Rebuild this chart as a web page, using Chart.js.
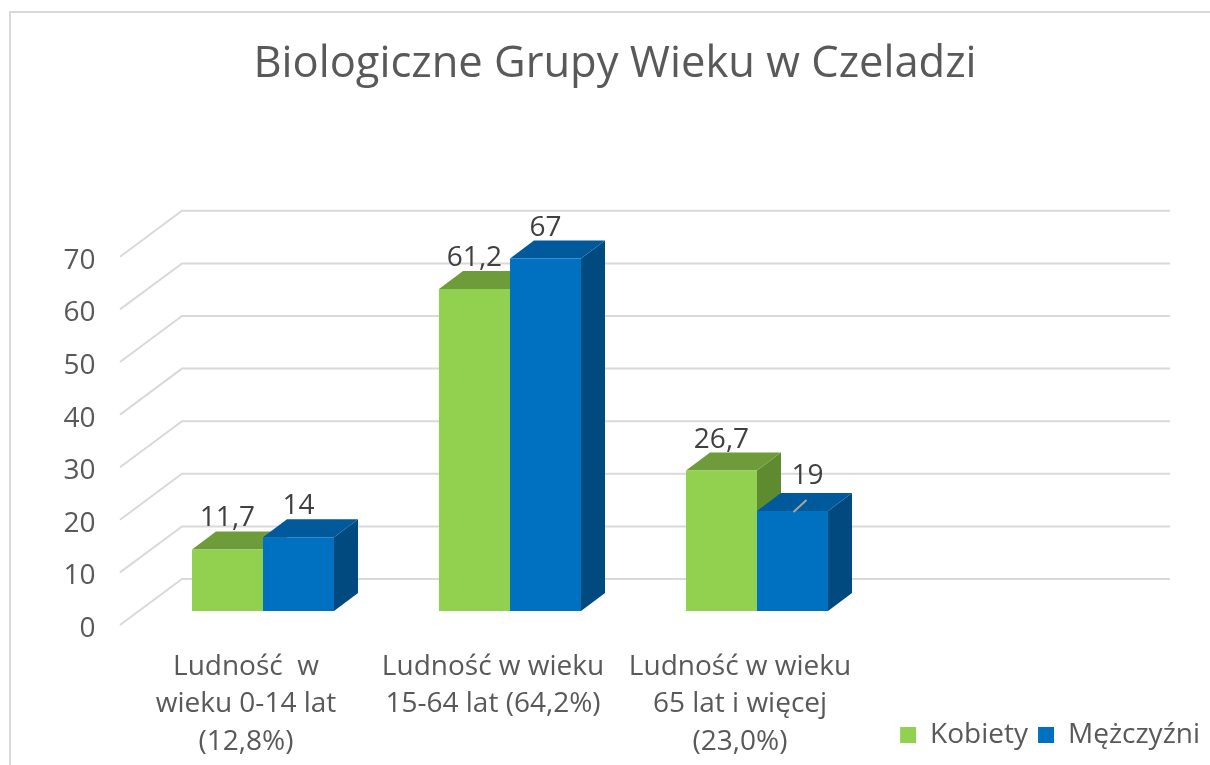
<!DOCTYPE html>
<html>
<head>
<meta charset="utf-8">
<script src="https://cdn.jsdelivr.net/npm/chart.js@4.4.1/dist/chart.umd.min.js"></script>
<style>
  html, body { margin: 0; padding: 0; background: #ffffff; }
  #frame { position: absolute; left: 9px; top: 11px; width: 1400px; height: 900px; border: 2px solid #d9d9d9; }
  #wrap { position: absolute; left: 0; top: 0; width: 1210px; height: 765px; }
</style>
</head>
<body>
<div id="frame"></div>
<div id="wrap"><canvas id="c" width="1210" height="765"></canvas></div>
<script>
// ---- data ----
const categories = [
  ["Ludność  w", "wieku 0-14 lat", "(12,8%)"],
  ["Ludność w wieku", "15-64 lat (64,2%)"],
  ["Ludność w wieku", "65 lat i więcej", "(23,0%)"],
  ""
];
const seriesNames = ["Kobiety", "Mężczyźni"];
const kobiety = [11.7, 61.2, 26.7, null];
const mezczyzni = [14, 67, 19, null];
const valueLabels = [["11,7", "61,2", "26,7"], ["14", "67", "19"]];
const yTicks = [0, 10, 20, 30, 40, 50, 60, 70];

// ---- styling ----
const FRONT = ["#92D050", "#0070C0"];
const TOP = ["#6F9C3B", "#00599B"];
const SIDE = ["#5E8A30", "#004A80"];
const TEXT = "#595959";
const FONT = "'Open Sans', Lato, sans-serif";
const BAR_DX = 24, BAR_DY = 18;        // bar depth projection
const FLOOR_FX = -19.5, FLOOR_FY = 14; // front edge of floor relative to bar face
const WALL_BX = 42.5, WALL_BY = -32;   // back wall relative to bar face

const threeD = {
  id: 'threeD',
  afterLayout(chart) {
    // let the multi-line category labels run down beside the legend
    const sx = chart.scales.x;
    sx.bottom = chart.height;
  },
  beforeDatasetsDraw(chart) {
    const ctx = chart.ctx, ys = chart.scales.y, ca = chart.chartArea;
    ctx.save();
    ctx.strokeStyle = "#d9d9d9";
    ctx.lineWidth = 2;
    yTicks.forEach(v => {
      const y = ys.getPixelForValue(v);
      ctx.beginPath();
      ctx.moveTo(ca.left + FLOOR_FX, y + FLOOR_FY);
      ctx.lineTo(ca.left + WALL_BX, y + WALL_BY);
      ctx.lineTo(ca.right + WALL_BX, y + WALL_BY);
      ctx.stroke();
    });
    const n = categories.length;
    for (let i = 0; i < n; i++) {
      for (let d = 0; d < chart.data.datasets.length; d++) {
        const el = chart.getDatasetMeta(d).data[i];
        if (!el || chart.data.datasets[d].data[i] == null) continue;
        const l = el.x - el.width / 2, r = el.x + el.width / 2, t = el.y, b = el.base;
        ctx.fillStyle = SIDE[d];
        ctx.beginPath();
        ctx.moveTo(r, t); ctx.lineTo(r + BAR_DX, t - BAR_DY);
        ctx.lineTo(r + BAR_DX, b - BAR_DY); ctx.lineTo(r, b); ctx.closePath(); ctx.fill();
        ctx.fillStyle = TOP[d];
        ctx.beginPath();
        ctx.moveTo(l, t); ctx.lineTo(l + BAR_DX, t - BAR_DY);
        ctx.lineTo(r + BAR_DX, t - BAR_DY); ctx.lineTo(r, t); ctx.closePath(); ctx.fill();
      }
    }
    ctx.restore();
  },
  afterDatasetsDraw(chart) {
    const ctx = chart.ctx;
    ctx.save();
    ctx.font = "28px " + FONT;
    ctx.fillStyle = "#404040";
    ctx.textAlign = "center";
    ctx.textBaseline = "middle";
    for (let d = 0; d < chart.data.datasets.length; d++) {
      const meta = chart.getDatasetMeta(d);
      valueLabels[d].forEach((txt, i) => {
        const el = meta.data[i];
        let x = el.x, y = el.y - 31;
        if (d === 1 && i === 2) {
          x = el.x + 15; y = el.y - 35;
          ctx.strokeStyle = "#a6a6a6"; ctx.lineWidth = 2;
          ctx.beginPath(); ctx.moveTo(el.x + 1, el.y + 1); ctx.lineTo(el.x + 14, el.y - 11); ctx.stroke();
        }
        ctx.fillText(txt, x, y);
      });
    }
    ctx.restore();
  }
};

new Chart(document.getElementById('c'), {
  type: 'bar',
  data: {
    labels: categories,
    datasets: [
      { label: seriesNames[0], data: kobiety, backgroundColor: FRONT[0], borderWidth: 0 },
      { label: seriesNames[1], data: mezczyzni, backgroundColor: FRONT[1], borderWidth: 0 }
    ]
  },
  options: {
    responsive: false,
    animation: false,
    layout: { padding: { left: 20, right: 0, top: 0, bottom: 6 } },
    datasets: { bar: { categoryPercentage: 0.575, barPercentage: 1 } },
    plugins: {
      title: {
        display: true,
        text: "Biologiczne Grupy Wieku w Czeladzi",
        color: TEXT,
        font: { family: FONT, size: 43.5, weight: 'normal', lineHeight: 1.2 },
        padding: { top: 39, bottom: 151.6 }
      },
      legend: {
        position: 'bottom',
        align: 'end',
        labels: { color: TEXT, font: { family: FONT, size: 28 }, boxWidth: 16, boxHeight: 16, padding: 10 }
      },
      tooltip: { enabled: false }
    },
    scales: {
      x: {
        grid: { display: false, drawTicks: false },
        border: { display: false },
        ticks: { color: TEXT, font: { family: FONT, size: 28, lineHeight: 1.34 }, padding: 37, labelOffset: -17, maxRotation: 0, autoSkip: false },
        afterFit(s) { s.height = 100; }
      },
      y: {
        min: 0, max: 70,
        grid: { display: false, drawTicks: false },
        border: { display: false },
        ticks: { stepSize: 10, color: TEXT, font: { family: FONT, size: 28 }, padding: 44, labelOffset: 18 },
        afterFit(s) { s.width = 119.5; }
      },
      y2: {
        position: 'right',
        grid: { display: false, drawTicks: false },
        border: { display: false },
        ticks: { display: false },
        afterFit(s) { s.width = 82.5; }
      }
    }
  },
  plugins: [threeD]
});
</script>
</body>
</html>
